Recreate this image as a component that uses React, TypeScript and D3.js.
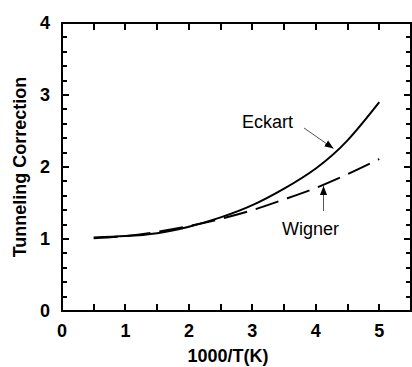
// Tunneling correction chart
import React from 'react';
import * as d3 from 'd3';

// x values (1000/T)
const invT: number[] = [0.5, 1, 1.5, 2, 2.5, 3, 3.5, 4, 4.5, 5];
// Eckart tunneling correction
const eckart: number[] = [1.02, 1.04, 1.08, 1.17, 1.3, 1.47, 1.7, 1.98, 2.37, 2.9];
// Wigner tunneling correction
const wigner: number[] = [1.01, 1.04, 1.1, 1.18, 1.28, 1.4, 1.55, 1.71, 1.9, 2.11];

const xTicks: number[] = [0, 1, 2, 3, 4, 5];
const yTicks: number[] = [0, 1, 2, 3, 4];

const width = 412;
const height = 367;
const marginTop = 23;
const marginRight = 1;
const marginBottom = 56;
const marginLeft = 62;

const font = 'Liberation Sans, Arial, Helvetica, sans-serif';

const x = d3.scaleLinear().domain([0, 5.5]).range([marginLeft, width - marginRight]);
const y = d3.scaleLinear().domain([0, 4]).range([height - marginBottom, marginTop]);

const line = d3.line<number>()
  .x((_, i) => x(invT[i]))
  .y((d) => y(d))
  .curve(d3.curveNatural);

const xTickVals = d3.range(0, 5.51, 0.5);
const yTickVals = d3.range(0, 4.01, 0.2);

const App: React.FC = () => {
  const x0 = x(0);
  const x1 = x(5.5);
  const y0 = y(0);
  const y1 = y(4);

  // 刻度路径（四边，向内）
  const path = d3.path();
  xTickVals.forEach((v) => {
    const px = Math.round(x(v));
    path.moveTo(px, y0); path.lineTo(px, y0 - 7);
    path.moveTo(px, y1); path.lineTo(px, y1 + 7);
  });
  yTickVals.forEach((v) => {
    const len = Math.abs(v - Math.round(v)) < 1e-6 ? 7 : 5;
    const py = Math.round(y(v));
    path.moveTo(x0, py); path.lineTo(x0 + len, py);
    path.moveTo(x1, py); path.lineTo(x1 - len, py);
  });

  return (
    <svg
      width={width}
      height={height}
      style={{ position: 'absolute', left: 0, top: 0, background: '#fff' }}
    >
      <defs>
        <marker id="head" viewBox="0 0 10 10" refX={10} refY={5}
          markerUnits="userSpaceOnUse" markerWidth={9} markerHeight={9} orient="auto">
          <path d="M0,1 L10,5 L0,9 Z" fill="#000" />
        </marker>
      </defs>

      {/* 边框 */}
      <rect x={x0} y={y1} width={x1 - x0} height={y0 - y1}
        fill="none" stroke="#000" strokeWidth={2} />

      <path d={path.toString()} fill="none" stroke="#000" strokeWidth={2} />

      {/* 刻度标签 */}
      <g fontFamily={font} fontWeight="bold" fontSize={18}>
        {xTicks.map((d) => (
          <text key={'xl' + d} x={x(d)} y={337} textAnchor="middle">{d}</text>
        ))}
        {yTicks.map((d) => (
          <text key={'yl' + d} x={50} y={y(d)} dy="0.36em" textAnchor="end">{d}</text>
        ))}
        <text x={228} y={362} textAnchor="middle">1000/T(K)</text>
        <text transform={`translate(26,${(y0 + y1) / 2}) rotate(-90)`} textAnchor="middle">
          Tunneling Correction
        </text>
      </g>

      {/* 曲线 */}
      <path d={line(wigner) ?? ''} fill="none" stroke="#000" strokeWidth={2}
        strokeDasharray="24,9" />
      <path d={line(eckart) ?? ''} fill="none" stroke="#000" strokeWidth={2} />

      {/* 注释 */}
      <text x={242} y={128} fontFamily={font} fontSize={18}>Eckart</text>
      <line x1={304} y1={128} x2={333.5} y2={148.5} stroke="#555" strokeWidth={1}
        markerEnd="url(#head)" />
      <text x={282} y={235} fontFamily={font} fontSize={18}>Wigner</text>
      <line x1={323.5} y1={211} x2={323.5} y2={186} stroke="#555" strokeWidth={1}
        markerEnd="url(#head)" />
    </svg>
  );
};

export default App;
